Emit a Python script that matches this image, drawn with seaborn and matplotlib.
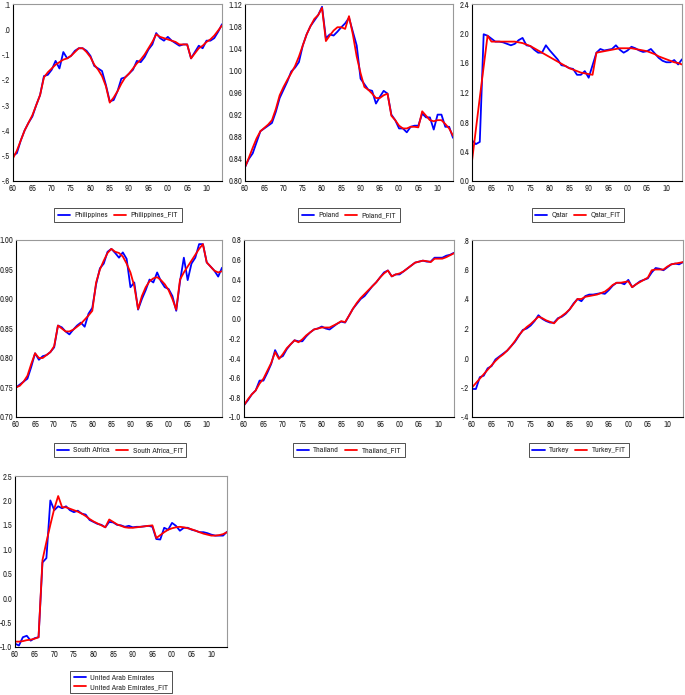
import matplotlib
matplotlib.use("Agg")
import matplotlib.pyplot as plt
from matplotlib import font_manager
import seaborn as sns
import pandas as pd

sns.set_style("white")

# the original uses a narrow Arial-like face; pick a condensed one if there is one
fonts = [f.name for f in font_manager.fontManager.ttflist]
narrow = [n for n in fonts if "Narrow" in n or "Condensed" in n]
if narrow:
    plt.rcParams["font.family"] = [narrow[0], "Liberation Sans", "DejaVu Sans"]
    FS, LFS = 6.2, 5.8
else:
    plt.rcParams["font.family"] = ["Liberation Sans", "DejaVu Sans"]
    FS, LFS = 5.4, 5.0

years = list(range(1960, 2015))

philippines = [-0.50, -0.49, -0.44, -0.40, -0.37, -0.345, -0.30, -0.26, -0.185, -0.18,
               -0.16, -0.125, -0.155, -0.09, -0.115, -0.105, -0.085, -0.075, -0.075, -0.085,
               -0.105, -0.145, -0.155, -0.165, -0.22, -0.285, -0.28, -0.245, -0.195, -0.19,
               -0.175, -0.16, -0.125, -0.13, -0.11, -0.08, -0.06, -0.015, -0.035, -0.045,
               -0.03, -0.045, -0.055, -0.065, -0.06, -0.06, -0.115, -0.09, -0.065, -0.075,
               -0.045, -0.045, -0.035, -0.01, 0.02]
philippines_fit = [-0.51, -0.48, -0.44, -0.40, -0.37, -0.34, -0.30, -0.26, -0.19, -0.17,
                   -0.155, -0.14, -0.13, -0.12, -0.115, -0.105, -0.09, -0.075, -0.075, -0.09,
                   -0.11, -0.14, -0.16, -0.185, -0.225, -0.29, -0.27, -0.245, -0.215, -0.19,
                   -0.175, -0.155, -0.135, -0.12, -0.10, -0.075, -0.05, -0.02, -0.03, -0.035,
                   -0.04, -0.045, -0.05, -0.06, -0.06, -0.06, -0.115, -0.095, -0.075, -0.065,
                   -0.05, -0.04, -0.025, -0.005, 0.015]

poland = [0.825, 0.84, 0.85, 0.87, 0.89, 0.895, 0.90, 0.905, 0.925, 0.95,
          0.965, 0.98, 0.998, 1.005, 1.015, 1.045, 1.065, 1.08, 1.09, 1.10,
          1.115, 1.058, 1.065, 1.063, 1.07, 1.078, 1.085, 1.095, 1.07, 1.045,
          0.985, 0.975, 0.965, 0.963, 0.94, 0.952, 0.963, 0.958, 0.92, 0.91,
          0.895, 0.895, 0.888, 0.898, 0.90, 0.90, 0.922, 0.915, 0.915, 0.893,
          0.92, 0.92, 0.898, 0.898, 0.878]
poland_fit = [0.825, 0.842, 0.86, 0.877, 0.89, 0.896, 0.902, 0.91, 0.93, 0.955,
              0.97, 0.983, 0.995, 1.008, 1.025, 1.045, 1.065, 1.08, 1.093, 1.10,
              1.113, 1.053, 1.063, 1.072, 1.078, 1.078, 1.075, 1.098, 1.065, 1.025,
              0.995, 0.97, 0.965, 0.958, 0.95, 0.95, 0.955, 0.958, 0.918, 0.91,
              0.90, 0.895, 0.895, 0.898, 0.898, 0.897, 0.926, 0.918, 0.91, 0.908,
              0.91, 0.91, 0.903, 0.895, 0.882]

qatar = [0.55, 0.50, 0.53, 1.99, 1.97, 1.93, 1.89, 1.89, 1.88, 1.86,
         1.84, 1.86, 1.91, 1.94, 1.84, 1.83, 1.78, 1.74, 1.74, 1.84,
         1.77, 1.71, 1.65, 1.57, 1.56, 1.53, 1.52, 1.44, 1.44, 1.49,
         1.40, 1.57, 1.74, 1.79, 1.77, 1.78, 1.79, 1.84, 1.78, 1.74,
         1.77, 1.82, 1.80, 1.77, 1.75, 1.76, 1.79, 1.73, 1.67, 1.63,
         1.61, 1.61, 1.64, 1.58, 1.65]
qatar_fit = [0.27, 0.70, 1.13, 1.55, 1.97, 1.89, 1.89, 1.89, 1.89, 1.89,
             1.89, 1.89, 1.88, 1.87, 1.85, 1.83, 1.80, 1.77, 1.74, 1.71,
             1.68, 1.65, 1.62, 1.59, 1.56, 1.53, 1.51, 1.49, 1.47, 1.46,
             1.45, 1.44, 1.74, 1.75, 1.76, 1.77, 1.78, 1.79, 1.80, 1.80,
             1.80, 1.80, 1.79, 1.78, 1.77, 1.76, 1.74, 1.72, 1.69, 1.67,
             1.65, 1.63, 1.61, 1.60, 1.58]

south_africa = [0.75, 0.755, 0.76, 0.765, 0.785, 0.808, 0.797, 0.803, 0.805, 0.81,
                0.818, 0.855, 0.852, 0.845, 0.84, 0.848, 0.855, 0.86, 0.853, 0.875,
                0.885, 0.925, 0.952, 0.96, 0.98, 0.985, 0.978, 0.97, 0.979, 0.968,
                0.92, 0.928, 0.882, 0.90, 0.915, 0.933, 0.928, 0.945, 0.93, 0.92,
                0.917, 0.905, 0.88, 0.93, 0.97, 0.932, 0.96, 0.97, 0.993, 0.993,
                0.962, 0.955, 0.948, 0.938, 0.953]
south_africa_fit = [0.75, 0.753, 0.76, 0.77, 0.79, 0.808, 0.80, 0.80, 0.805, 0.81,
                    0.82, 0.855, 0.85, 0.845, 0.845, 0.848, 0.853, 0.858, 0.865, 0.872,
                    0.88, 0.928, 0.95, 0.965, 0.978, 0.985, 0.98, 0.978, 0.972, 0.96,
                    0.945, 0.922, 0.883, 0.905, 0.92, 0.93, 0.935, 0.937, 0.932, 0.925,
                    0.915, 0.90, 0.882, 0.933, 0.945, 0.955, 0.965, 0.975, 0.985, 0.993,
                    0.962, 0.955, 0.948, 0.945, 0.947]

thailand = [-0.88, -0.83, -0.77, -0.73, -0.63, -0.63, -0.55, -0.46, -0.32, -0.40,
            -0.38, -0.31, -0.26, -0.22, -0.23, -0.23, -0.18, -0.14, -0.11, -0.10,
            -0.08, -0.10, -0.11, -0.08, -0.05, -0.03, -0.04, 0.03, 0.10, 0.15,
            0.20, 0.23, 0.28, 0.33, 0.37, 0.42, 0.47, 0.49, 0.43, 0.45,
            0.45, 0.48, 0.51, 0.54, 0.57, 0.58, 0.59, 0.58, 0.58, 0.62,
            0.62, 0.62, 0.64, 0.65, 0.67]
thailand_fit = [-0.88, -0.82, -0.77, -0.73, -0.66, -0.61, -0.53, -0.45, -0.34, -0.41,
                -0.36, -0.30, -0.26, -0.22, -0.24, -0.21, -0.17, -0.14, -0.11, -0.10,
                -0.09, -0.09, -0.09, -0.07, -0.05, -0.025, -0.035, 0.03, 0.10, 0.16,
                0.21, 0.25, 0.29, 0.33, 0.37, 0.42, 0.46, 0.49, 0.43, 0.45,
                0.46, 0.48, 0.51, 0.54, 0.57, 0.58, 0.59, 0.585, 0.575, 0.61,
                0.61, 0.61, 0.625, 0.645, 0.665]

turkey = [-0.21, -0.21, -0.13, -0.12, -0.07, -0.055, -0.01, 0.01, 0.03, 0.05,
          0.08, 0.11, 0.15, 0.19, 0.20, 0.22, 0.25, 0.29, 0.265, 0.25,
          0.24, 0.24, 0.27, 0.28, 0.30, 0.33, 0.37, 0.40, 0.385, 0.42,
          0.43, 0.43, 0.435, 0.44, 0.435, 0.46, 0.49, 0.51, 0.51, 0.50,
          0.53, 0.48, 0.50, 0.52, 0.53, 0.54, 0.58, 0.61, 0.605, 0.595,
          0.615, 0.635, 0.64, 0.635, 0.65]
turkey_fit = [-0.20, -0.17, -0.14, -0.11, -0.08, -0.05, -0.02, 0.005, 0.025, 0.05,
              0.08, 0.115, 0.155, 0.185, 0.21, 0.23, 0.255, 0.28, 0.27, 0.255,
              0.245, 0.235, 0.265, 0.285, 0.305, 0.33, 0.365, 0.40, 0.40, 0.415,
              0.42, 0.425, 0.43, 0.44, 0.45, 0.47, 0.495, 0.51, 0.51, 0.515,
              0.52, 0.48, 0.50, 0.515, 0.53, 0.545, 0.595, 0.60, 0.60, 0.60,
              0.62, 0.635, 0.64, 0.645, 0.65]

uae = [-0.93, -0.97, -0.80, -0.77, -0.87, -0.82, -0.80, 0.73, 0.82, 2.00,
       1.80, 1.88, 1.84, 1.88, 1.80, 1.76, 1.79, 1.73, 1.71, 1.60,
       1.56, 1.52, 1.50, 1.45, 1.56, 1.55, 1.50, 1.49, 1.46, 1.48,
       1.45, 1.46, 1.46, 1.47, 1.48, 1.46, 1.21, 1.20, 1.44, 1.40,
       1.54, 1.48, 1.38, 1.44, 1.44, 1.40, 1.38, 1.35, 1.35, 1.33,
       1.30, 1.28, 1.28, 1.28, 1.36]
uae_fit = [-0.89, -0.89, -0.88, -0.86, -0.85, -0.83, -0.80, 0.78, 1.15, 1.50,
           1.83, 2.09, 1.86, 1.86, 1.83, 1.80, 1.77, 1.73, 1.68, 1.62,
           1.57, 1.53, 1.49, 1.45, 1.61, 1.56, 1.51, 1.48, 1.45, 1.44,
           1.44, 1.45, 1.46, 1.47, 1.48, 1.49, 1.23, 1.29, 1.35, 1.40,
           1.43, 1.45, 1.46, 1.45, 1.43, 1.41, 1.38, 1.35, 1.32, 1.30,
           1.28, 1.28, 1.29, 1.31, 1.35]

# name, actual, fit, y ticks, y tick labels
panels = [
    ("Philippines", philippines, philippines_fit,
     [-0.6, -0.5, -0.4, -0.3, -0.2, -0.1, 0.0, 0.1],
     ["-.6", "-.5", "-.4", "-.3", "-.2", "-.1", ".0", ".1"]),
    ("Poland", poland, poland_fit,
     [0.80, 0.84, 0.88, 0.92, 0.96, 1.00, 1.04, 1.08, 1.12],
     ["0.80", "0.84", "0.88", "0.92", "0.96", "1.00", "1.04", "1.08", "1.12"]),
    ("Qatar", qatar, qatar_fit,
     [0.0, 0.4, 0.8, 1.2, 1.6, 2.0, 2.4],
     ["0.0", "0.4", "0.8", "1.2", "1.6", "2.0", "2.4"]),
    ("South Africa", south_africa, south_africa_fit,
     [0.70, 0.75, 0.80, 0.85, 0.90, 0.95, 1.00],
     ["0.70", "0.75", "0.80", "0.85", "0.90", "0.95", "1.00"]),
    ("Thailand", thailand, thailand_fit,
     [-1.0, -0.8, -0.6, -0.4, -0.2, 0.0, 0.2, 0.4, 0.6, 0.8],
     ["-1.0", "-0.8", "-0.6", "-0.4", "-0.2", "0.0", "0.2", "0.4", "0.6", "0.8"]),
    ("Turkey", turkey, turkey_fit,
     [-0.4, -0.2, 0.0, 0.2, 0.4, 0.6, 0.8],
     ["-.4", "-.2", ".0", ".2", ".4", ".6", ".8"]),
    ("United Arab Emirates", uae, uae_fit,
     [-1.0, -0.5, 0.0, 0.5, 1.0, 1.5, 2.0, 2.5],
     ["-1.0", "-0.5", "0.0", "0.5", "1.0", "1.5", "2.0", "2.5"]),
]

W, H = 685, 695
# axes boxes in pixels: left, top, right, bottom
boxes = [(13, 4, 222, 181), (245, 4, 453, 181), (472, 4, 682, 181),
         (16, 240, 222, 417), (244, 240, 454, 417), (472, 240, 683, 417),
         (15, 476, 227, 647)]
# legend centres in pixels
leg_pos = [(118, 215), (349, 215), (578, 215),
           (120, 450), (349, 450), (579, 450),
           (121, 682)]

fig = plt.figure(figsize=(W / 100, H / 100), dpi=100)

for i, (name, actual, fit, yt, ytl) in enumerate(panels):
    l, t, r, b = boxes[i]
    ax = fig.add_axes([l / W, 1 - b / H, (r - l) / W, (b - t) / H])
    df = pd.DataFrame({"year": years + years,
                       "value": list(actual) + list(fit),
                       "series": [name] * len(years) + [name + "_FIT"] * len(years)})
    sns.lineplot(data=df, x="year", y="value", hue="series",
                 palette=["#0000ff", "#ff0000"], linewidth=1.3, ax=ax, legend=False)
    ax.set_xlim(1960, 2014)
    ax.set_ylim(yt[0], yt[-1])
    ax.set_xticks(range(1960, 2015, 5))
    ax.set_xticklabels([f"{y % 100:02d}" for y in range(1960, 2015, 5)])
    ax.set_xticks(years, minor=True)
    ax.set_yticks(yt)
    ax.set_yticklabels(ytl)
    ax.tick_params(axis="x", which="major", direction="in", length=4, width=0.6,
                   labelsize=FS, pad=2.5)
    ax.tick_params(axis="x", which="minor", direction="in", length=2, width=0.5)
    ax.tick_params(axis="y", direction="out", length=1.5, width=0.6, labelsize=FS, pad=0.6)
    ax.set_xlabel("")
    ax.set_ylabel("")
    for s in ["left", "bottom"]:
        ax.spines[s].set_color("black")
        ax.spines[s].set_linewidth(0.8)
    for s in ["top", "right"]:
        ax.spines[s].set_color("#999999")
        ax.spines[s].set_linewidth(0.8)

    handles = [plt.Line2D([], [], color="#0000ff", lw=1.3),
               plt.Line2D([], [], color="#ff0000", lw=1.3)]
    cx, cy = leg_pos[i]
    leg = fig.legend(handles, [name, name + "_FIT"], loc="center",
                     bbox_to_anchor=(cx / W, 1 - cy / H),
                     ncol=1 if i == 6 else 2, fontsize=LFS, frameon=True,
                     fancybox=False, handlelength=1.5, handletextpad=0.5,
                     columnspacing=0.8, borderpad=0.45, labelspacing=0.3,
                     borderaxespad=0)
    leg.get_frame().set_edgecolor("black")
    leg.get_frame().set_linewidth(0.6)

fig.savefig("out.png", dpi=100)
